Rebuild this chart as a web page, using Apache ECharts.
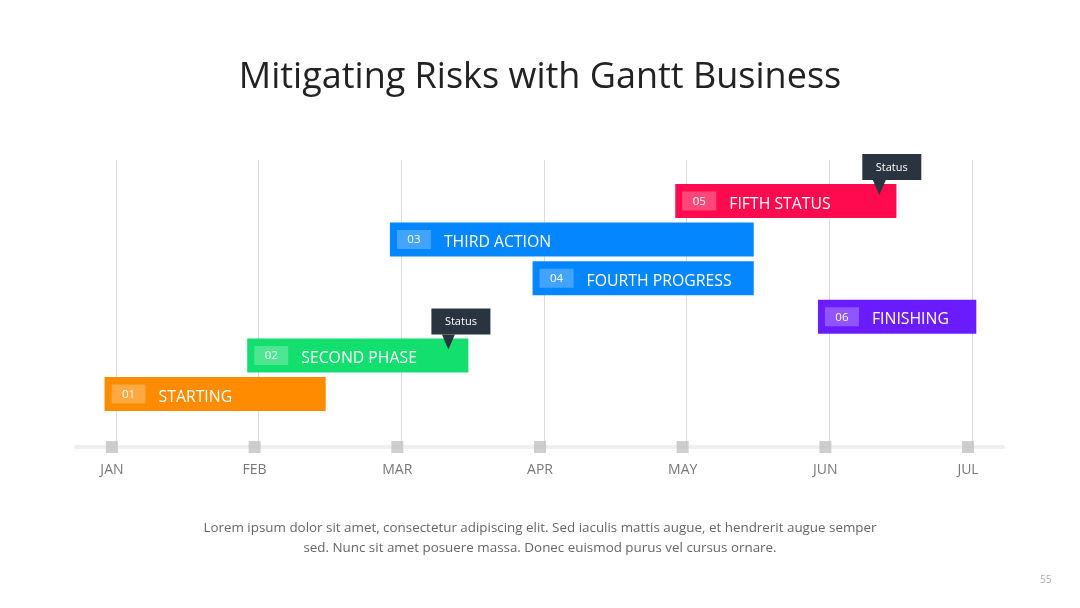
<html>
<head>
    <meta charset="utf-8" />
    <title>Gantt Business</title>
    <script src="https://cdn.jsdelivr.net/npm/echarts@6.0.0/dist/echarts.min.js"></script>
    <style>
        body { margin: 0; background: #fff; }
        #gantt { width: 1080px; height: 608px; }
    </style>
</head>
<body>
    <div id="gantt"></div>
    <script type="text/javascript">
        // months on the x axis (value k = k-th month line)
        var months = ['JAN', 'FEB', 'MAR', 'APR', 'MAY', 'JUN', 'JUL'];
        var monthValues = [0, 1, 2, 3, 4, 5, 6];

        // tasks
        var taskIds = ['01', '02', '03', '04', '05', '06'];
        var taskNames = ['STARTING', 'SECOND PHASE', 'THIRD ACTION', 'FOURTH PROGRESS', 'FIFTH STATUS', 'FINISHING'];
        var taskStart = [-0.08, 0.92, 1.92, 2.92, 3.92, 4.92];
        var taskEnd = [1.47, 2.47, 4.47, 4.47, 5.47, 6.03];
        var taskRow = [0, 1, 4, 3, 5, 2];   // 0 = bottom row
        var taskColors = ['#ff8c00', '#12df6e', '#0486ff', '#0486ff', '#ff0a4e', '#6b1cff'];

        // "Status" callouts: [month position, row]
        var statusPos = [2.33, 5.35];
        var statusRow = [1, 5];

        var noteLines = [
            'Lorem ipsum dolor sit amet, consectetur adipiscing elit. Sed iaculis mattis augue, et hendrerit augue semper',
            'sed. Nunc sit amet posuere massa. Donec euismod purus vel cursus ornare.'
        ];

        var FONT = '"Open Sans", "Noto Sans", sans-serif';

        var chartDom = document.getElementById('gantt');
        var chart = echarts.init(chartDom, null, { renderer: 'canvas' });

        var taskData = taskIds.map(function (id, i) {
            return { value: [taskStart[i], taskEnd[i], taskRow[i], i] };
        });
        var statusData = statusPos.map(function (p, i) {
            return [p, statusRow[i]];
        });

        function renderTask(params, api) {
            var i = api.value(3);
            var s = api.coord([api.value(0), api.value(2)]);
            var e = api.coord([api.value(1), api.value(2)]);
            var h = 34;
            var x = s[0], cy = s[1];
            return {
                type: 'group',
                children: [
                    { type: 'rect', shape: { x: x, y: cy - h / 2, width: e[0] - x, height: h },
                      style: { fill: taskColors[i] } },
                    { type: 'rect', shape: { x: x + 7, y: cy - 9.5, width: 34, height: 19 },
                      style: { fill: 'rgba(255,255,255,0.25)' } },
                    { type: 'text', x: x + 24, y: cy + 0.5,
                      style: { text: taskIds[i], fill: '#fff', font: '11.5px ' + FONT,
                               align: 'center', verticalAlign: 'middle' } },
                    { type: 'text', x: x + 54, y: cy + 3,
                      style: { text: taskNames[i], fill: '#fff', font: '500 15.8px ' + FONT,
                               align: 'left', verticalAlign: 'middle' } }
                ]
            };
        }

        function renderStatus(params, api) {
            var p = api.coord([api.value(0), api.value(1)]);
            var tipX = p[0], tipY = p[1] - 6;
            var boxB = tipY - 15, boxH = 26, boxL = tipX - 17, boxW = 59;
            return {
                type: 'group',
                children: [
                    { type: 'rect', shape: { x: boxL, y: boxB - boxH, width: boxW, height: boxH },
                      style: { fill: '#2a3440' } },
                    { type: 'polygon', shape: { points: [[tipX - 6.5, boxB], [tipX + 6.5, boxB], [tipX, tipY]] },
                      style: { fill: '#2a3440' } },
                    { type: 'text', x: boxL + boxW / 2, y: boxB - boxH / 2 + 0.5,
                      style: { text: 'Status', fill: '#fff', font: '11px ' + FONT,
                               align: 'center', verticalAlign: 'middle' } }
                ]
            };
        }

        var option = {
            animation: false,
            backgroundColor: '#ffffff',
            title: {
                text: 'Mitigating Risks with Gantt Business',
                left: 'center', top: 55,
                textStyle: { fontFamily: FONT, fontSize: 36, fontWeight: 'normal', color: '#222' }
            },
            graphic: [
                {
                    type: 'text', x: 540, y: 518,
                    style: { text: noteLines.join('\n'), font: '13.4px ' + FONT, fill: '#666',
                             align: 'center', verticalAlign: 'top', lineHeight: 20 }
                },
                {
                    type: 'text', left: 1040, top: 575,
                    style: { text: '55', font: '10px ' + FONT, fill: '#aaa' }
                }
            ],
            grid: { left: 76, right: 77, top: 160, bottom: 161 },
            xAxis: {
                type: 'value',
                min: -0.28, max: 6.217,
                axisLine: { show: true, onZero: false, lineStyle: { color: '#efefef', width: 4 } },
                axisTick: { show: false },
                splitLine: { show: false },
                axisLabel: {
                    customValues: monthValues,
                    formatter: function (v) { return months[Math.round(v)]; },
                    fontFamily: FONT, fontSize: 14, color: '#777', margin: 16,
                    padding: [0, 8, 0, 0]
                }
            },
            yAxis: {
                type: 'value', min: -1.373, max: 6.062, show: false
            },
            series: [
                {
                    type: 'scatter',
                    data: monthValues.map(function (m) { return [m, -1.373]; }),
                    symbol: 'rect', symbolSize: 12, symbolOffset: [-4, 0],
                    itemStyle: { color: '#c2c2c2' },
                    clip: false, silent: true, z: 3,
                    markLine: {
                        z: 1,
                        silent: true, symbol: 'none', label: { show: false },
                        lineStyle: { color: '#dcdcdc', width: 1, type: 'solid' },
                        data: monthValues.map(function (m) { return { xAxis: m }; })
                    }
                },
                { type: 'custom', renderItem: renderTask, data: taskData, z: 4,
                  encode: { x: [0, 1], y: 2 } },
                { type: 'custom', renderItem: renderStatus, data: statusData, z: 5,
                  encode: { x: 0, y: 1 } }
            ]
        };
        chart.setOption(option);
    </script>
</body>
</html>
